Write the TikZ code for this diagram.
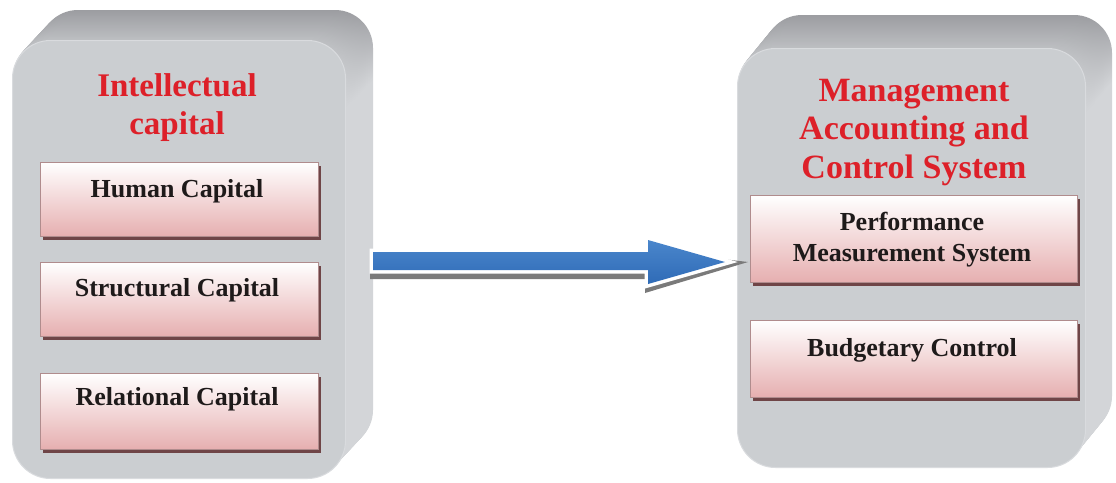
\documentclass[tikz,border=0pt]{standalone}
\usepackage{fontspec}
\setmainfont{Liberation Serif}
\usetikzlibrary{calc,shadows}
\definecolor{bvdark}{HTML}{9C9DA1}
\definecolor{bvlight}{HTML}{BDBFC2}
\definecolor{bvbot}{HTML}{D3D5D8}
\definecolor{faceC}{HTML}{CBCED1}
\definecolor{faceEdge}{HTML}{D9DBDE}
\definecolor{titleRed}{HTML}{DD2029}
\definecolor{boxTop}{HTML}{FFFFFF}
\definecolor{boxBot}{HTML}{E6AFB0}
\definecolor{boxShadow}{HTML}{6F4547}
\definecolor{boxEdge}{HTML}{B08C8D}
\definecolor{boxText}{HTML}{1E1A1A}
\definecolor{arrowBlue}{HTML}{2F6BB6}
\definecolor{arrowBlueL}{HTML}{4A86CC}
\definecolor{arrowShadow}{HTML}{7A7A7A}
\colorlet{bvtop}{bvdark}
\pgfdeclareverticalshading[bvtop,bvbot]{bevelsh}{100bp}{color(0bp)=(bvbot); color(25bp)=(bvbot); color(67bp)=(bvbot); color(75bp)=(bvtop); color(100bp)=(bvtop)}
% #1 x1, #2 y1, #3 x2, #4 y2, #5 dx, #6 dy
\newcommand\mypanelbevel[6]{%
  \foreach \k in {30,29,...,1}{%
    \pgfmathtruncatemacro\pc{100*(30-\k)/30}%
    \colorlet{bvtop}{bvlight!\pc!bvdark}%
    \shade[shading=bevelsh, rounded corners=38pt]
      ({#1+\k*#5/30},{#2-\k*#6/30}) rectangle ({#3+\k*#5/30},{#4-\k*#6/30});
  }%
}
\begin{document}
\begin{tikzpicture}[x=1pt,y=-1pt,
  panelface/.style={rectangle, rounded corners=38pt, fill=faceC, draw=faceEdge,
    line width=1pt, inner sep=0pt, anchor=north west},
  pinkbox/.style={rectangle, inner sep=0pt, anchor=north west, top color=boxTop,
    bottom color=boxBot, draw=boxEdge, line width=0.6pt,
    drop shadow={shadow xshift=2.5pt, shadow yshift=-3.5pt, fill=boxShadow, opacity=1}},
  boxtext/.style={font=\bfseries\fontsize{26}{31}\selectfont, text=boxText,
    inner sep=0pt, align=center},
  titletext/.style={font=\bfseries\fontsize{33}{38}\selectfont, text=titleRed,
    inner sep=0pt, align=center, anchor=north},
]
\useasboundingbox[fill=white] (0,0) rectangle (1116,482);

% ---------- left panel ----------
\mypanelbevel{12}{40}{345}{478}{28}{30}
\node[panelface, minimum width=333pt, minimum height=438pt] (icpanel) at (12,40) {};
\node[titletext] (ictitle) at (177,73) {Intellectual\\capital};

\node[pinkbox, minimum width=278pt, minimum height=74pt] (hcbox) at (40,162) {};
\node[boxtext, anchor=base] (hc) at (177,197) {Human Capital};
\node[pinkbox, minimum width=278pt, minimum height=74pt] (scbox) at (40,262) {};
\node[boxtext, anchor=base] (sc) at (177,296) {Structural Capital};
\node[pinkbox, minimum width=278pt, minimum height=76pt] (rcbox) at (40,373) {};
\node[boxtext, anchor=base] (rc) at (177,405) {Relational Capital};

% ---------- right panel ----------
\mypanelbevel{737}{48}{1085}{467}{27}{33}
\node[panelface, minimum width=348pt, minimum height=419pt] (macpanel) at (737,48) {};
\node[titletext, font=\bfseries\fontsize{34}{38.5}\selectfont] (mactitle) at (914,79)
  {Management\\Accounting and\\Control System};

\node[pinkbox, minimum width=327pt, minimum height=87pt] (pmbox) at (750,195) {};
\node[boxtext, anchor=north] (pm) at (912,212) {Performance\\Measurement System};
\node[pinkbox, minimum width=327pt, minimum height=77pt] (bcbox) at (750,320) {};
\node[boxtext, anchor=base] (bc) at (912,356) {Budgetary Control};

% ---------- arrow ----------
\coordinate (aS) at (373,261);
\coordinate (aE) at (725,262);
\fill[arrowShadow]
  ($(aS)+(-3,0)$) -- ($(aE)+(-80,0)$) -- ($(aE)+(-80,-12)$) -- ($(aE)+(23,0)$)
  -- ($(aE)+(-80,31)$) -- ($(aE)+(-80,17)$) -- ($(aS)+(-3,18)$) -- cycle;
\draw[white, line width=7pt, line join=miter]
  ($(aS)+(0,-9)$) -- ($(aE)+(-77,-10)$) -- ($(aE)+(-77,-22)$) -- (aE)
  -- ($(aE)+(-77,22)$) -- ($(aE)+(-77,8)$) -- ($(aS)+(0,9)$) -- cycle;
\shade[top color=arrowBlueL, bottom color=arrowBlue]
  ($(aS)+(0,-9)$) -- ($(aE)+(-77,-10)$) -- ($(aE)+(-77,-22)$) -- (aE)
  -- ($(aE)+(-77,22)$) -- ($(aE)+(-77,8)$) -- ($(aS)+(0,9)$) -- cycle;
\end{tikzpicture}
\end{document}
